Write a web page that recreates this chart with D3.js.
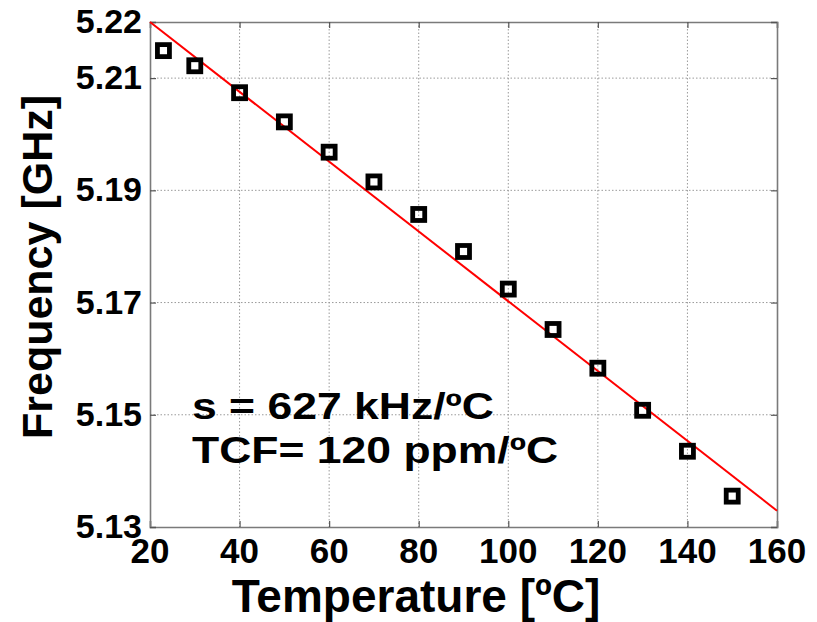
<!DOCTYPE html>
<html>
<head>
<meta charset="utf-8">
<script src="https://cdn.jsdelivr.net/npm/d3@7"></script>
<style>
  body { margin: 0; background: #fff; }
  text { font-family: "Liberation Sans", Arial, sans-serif; font-weight: bold; fill: #000; }
</style>
</head>
<body>
<svg id="canvas" width="817" height="622"></svg>
<script>
// measured points
let temps = [23, 30, 40, 50, 60, 70, 80, 90, 100, 110, 120, 130, 140, 150];
let freqs = [5.2149, 5.2122, 5.2074, 5.2022, 5.1968, 5.1915, 5.1857, 5.1791, 5.1724, 5.1652, 5.1583, 5.1508, 5.1435, 5.1355];
// linear fit
let fitTemps = [20, 160];
let fitFreqs = [5.22, 5.1329];
let xTicks = [20, 40, 60, 80, 100, 120, 140, 160];
let yTicks = [5.13, 5.15, 5.17, 5.19, 5.21, 5.22];
let yGrid = [5.15, 5.17, 5.19, 5.21];
let notes = ['s = 627 kHz/ºC', 'TCF= 120 ppm/ºC'];

let svg = d3.select('#canvas');
let plotL = 150, plotR = 777, plotT = 22, plotB = 527;

let x = d3.scaleLinear().domain([20, 160]).range([plotL, plotR]);
let y = d3.scaleLinear().domain([5.13, 5.22]).range([plotB, plotT]);

// grid
svg.append('g')
   .selectAll('line')
   .data(xTicks.slice(1, -1))
   .enter()
   .append('line')
   .attr('x1', d => x(d)).attr('x2', d => x(d))
   .attr('y1', plotT).attr('y2', plotB)
   .attr('stroke', '#9a9a9a')
   .attr('stroke-width', 1)
   .attr('stroke-dasharray', '1.5,2');
svg.append('g')
   .selectAll('line')
   .data(yGrid)
   .enter()
   .append('line')
   .attr('x1', plotL).attr('x2', plotR)
   .attr('y1', d => y(d)).attr('y2', d => y(d))
   .attr('stroke', '#9a9a9a')
   .attr('stroke-width', 1)
   .attr('stroke-dasharray', '1.5,2');

// axes (inward ticks, no labels here)
let xAxisB = d3.axisBottom(x).tickValues(xTicks).tickSize(-6).tickFormat('');
let xAxisT = d3.axisTop(x).tickValues(xTicks).tickSize(-6).tickFormat('');
let yAxisL = d3.axisLeft(y).tickValues(yTicks).tickSize(-6).tickFormat('');
let yAxisR = d3.axisRight(y).tickValues(yTicks).tickSize(-6).tickFormat('');
[[xAxisB, 0, plotB], [xAxisT, 0, plotT], [yAxisL, plotL, 0], [yAxisR, plotR, 0]].forEach(a => {
  let g = svg.append('g').attr('transform', 'translate(' + a[1] + ',' + a[2] + ')').call(a[0]);
  g.select('.domain').attr('stroke', '#7a7a7a').attr('stroke-width', 1.6);
  g.selectAll('.tick line').attr('stroke', '#555').attr('stroke-width', 1.2);
});

// tick labels
svg.append('g')
   .selectAll('text')
   .data(xTicks)
   .enter()
   .append('text')
   .attr('x', d => x(d))
   .attr('y', plotB + 36)
   .attr('text-anchor', 'middle')
   .style('font-size', '35px')
   .text(d => d);
svg.append('g')
   .selectAll('text')
   .data(yTicks)
   .enter()
   .append('text')
   .attr('x', plotL - 8)
   .attr('y', d => y(d) + 11)
   .attr('text-anchor', 'end')
   .style('font-size', '34px')
   .text(d => d.toFixed(2));

// fit line
let line = d3.line().x((d, i) => x(fitTemps[i])).y(d => y(d));
svg.append('path')
   .datum(fitFreqs)
   .attr('d', line)
   .attr('fill', 'none')
   .attr('stroke', '#ff0000')
   .attr('stroke-width', 2);

// markers
svg.append('g')
   .selectAll('rect')
   .data(freqs)
   .enter()
   .append('rect')
   .attr('x', (d, i) => x(temps[i]) - 6)
   .attr('y', d => y(d) - 6)
   .attr('width', 12)
   .attr('height', 12)
   .attr('fill', 'none')
   .attr('stroke', '#000')
   .attr('stroke-width', 4.8);

// titles
svg.append('text')
   .attr('x', 416)
   .attr('y', 612)
   .attr('text-anchor', 'middle')
   .style('font-size', '46px')
   .text('Temperature [ºC]');
svg.append('text')
   .attr('transform', 'translate(52,267) rotate(-90)')
   .attr('text-anchor', 'middle')
   .style('font-size', '43px')
   .text('Frequency [GHz]');

// annotations (stretched wide like the original)
let noteW = [302, 366];
svg.append('g')
   .selectAll('text')
   .data(notes)
   .enter()
   .append('text')
   .attr('x', 192)
   .attr('y', (d, i) => 419 + i * 44)
   .attr('textLength', (d, i) => noteW[i])
   .attr('lengthAdjust', 'spacingAndGlyphs')
   .style('font-size', '37px')
   .text(d => d);
</script>
</body>
</html>
